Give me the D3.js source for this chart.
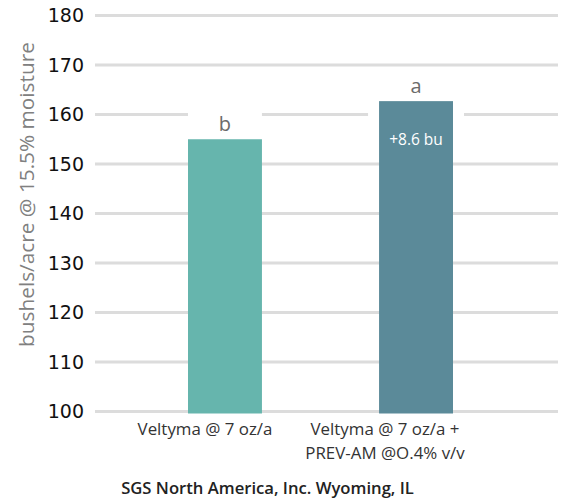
<!DOCTYPE html>
<html>
<head>
<meta charset="utf-8">
<script src="https://cdn.jsdelivr.net/npm/d3@7"></script>
<style>
  body { margin: 0; background: #fff; }
  text { font-family: "Open Sans", Lato, sans-serif; }
</style>
</head>
<body>
<div id="chart"></div>
<script>
// data
var categories = ["Veltyma @ 7 oz/a", "Veltyma @ 7 oz/a +\nPREV-AM @O.4% v/v"];
var yields = [155.0, 162.7];
var letters = ["b", "a"];
var barColors = ["#66b5ad", "#5b8a99"];
var diffLabel = "+8.6 bu";
var yTicks = [100, 110, 120, 130, 140, 150, 160, 170, 180];

var width = 565, height = 504;
var svg = d3.select("#chart").append("svg")
    .attr("width", width).attr("height", height);

var x = d3.scaleBand().domain(categories).range([188, 453])
    .paddingInner(0.613).paddingOuter(0);
// category labels sit a bit left of the bars in the original
var xLabel = d3.scalePoint().domain(categories).range([205, 385]);
var y = d3.scaleLinear().domain([100, 180]).range([411.5, 15.5]);

// shrink/grow font so a text node spans a given width
function fitWidth(sel, w) {
  var node = sel.node();
  var fs = parseFloat(sel.attr("font-size"));
  var len = node.getComputedTextLength();
  sel.attr("font-size", fs * w / len);
}

// gridlines
svg.append("g").selectAll("line").data(yTicks).join("line")
    .attr("x1", 95).attr("x2", 558)
    .attr("y1", d => y(d)).attr("y2", d => y(d))
    .attr("stroke", "#dcdcdc").attr("stroke-width", 3);

// tick labels
svg.append("g").selectAll("text").data(yTicks).join("text")
    .attr("x", 84).attr("y", d => y(d)).attr("dy", "0.36em")
    .attr("text-anchor", "end").attr("font-size", 19).attr("fill", "#111")
    .style("font-family", "'DejaVu Sans', sans-serif")
    .text(d => d);

// white boxes behind the letter labels (they cut the gridline in the original)
svg.append("rect").attr("x", x(categories[0])).attr("width", x.bandwidth())
    .attr("y", y(yields[0]) - 32).attr("height", 32).attr("fill", "#fff");
svg.append("rect").attr("x", x(categories[1]) - 11).attr("width", x.bandwidth() + 22)
    .attr("y", y(yields[1]) - 32).attr("height", 56).attr("fill", "#fff");

// bars
svg.append("g").selectAll("rect").data(categories).join("rect")
    .attr("x", d => x(d)).attr("width", x.bandwidth())
    .attr("y", (d, i) => y(yields[i]))
    .attr("height", (d, i) => y(100) + 2 - y(yields[i]))
    .attr("fill", (d, i) => barColors[i]);

// significance letters
svg.append("g").selectAll("text").data(categories).join("text")
    .attr("x", d => x(d) + x.bandwidth() / 2)
    .attr("y", (d, i) => y(yields[i]) - 8)
    .attr("text-anchor", "middle").attr("font-size", 20).attr("fill", "#6b6b6b")
    .text((d, i) => letters[i]);

svg.append("text")
    .attr("x", x(categories[1]) + x.bandwidth() / 2)
    .attr("y", y(yields[1]) + 44)
    .attr("text-anchor", "middle").attr("font-size", 15.5).attr("fill", "#fff")
    .text(diffLabel);

// category labels
var xl = svg.append("g").selectAll("text").data(categories).join("text")
    .attr("x", d => xLabel(d))
    .attr("y", 435)
    .attr("text-anchor", "middle").attr("font-size", 16).attr("fill", "#333");
xl.selectAll("tspan").data(d => d.split("\n")).join("tspan")
    .attr("x", function() { return this.parentNode.getAttribute("x"); })
    .attr("dy", (d, i) => i ? 24 : 0)
    .text(d => d);
fitWidth(xl.filter((d, i) => i === 0), 135);
xl.filter((d, i) => i === 1).attr("font-size", +xl.filter((d, i) => i === 0).attr("font-size"));

// axis title
var yt = svg.append("text")
    .attr("transform", "translate(34,194.5) rotate(-90)")
    .attr("text-anchor", "middle").attr("font-size", 17).attr("fill", "#808080")
    .text("bushels/acre @ 15.5% moisture");
fitWidth(yt, 305);

// footer
var ft = svg.append("text")
    .attr("x", 267.5).attr("y", 494)
    .attr("text-anchor", "middle").attr("font-size", 16).attr("font-weight", 600)
    .attr("fill", "#222")
    .text("SGS North America, Inc. Wyoming, IL");
fitWidth(ft, 293);
</script>
</body>
</html>
